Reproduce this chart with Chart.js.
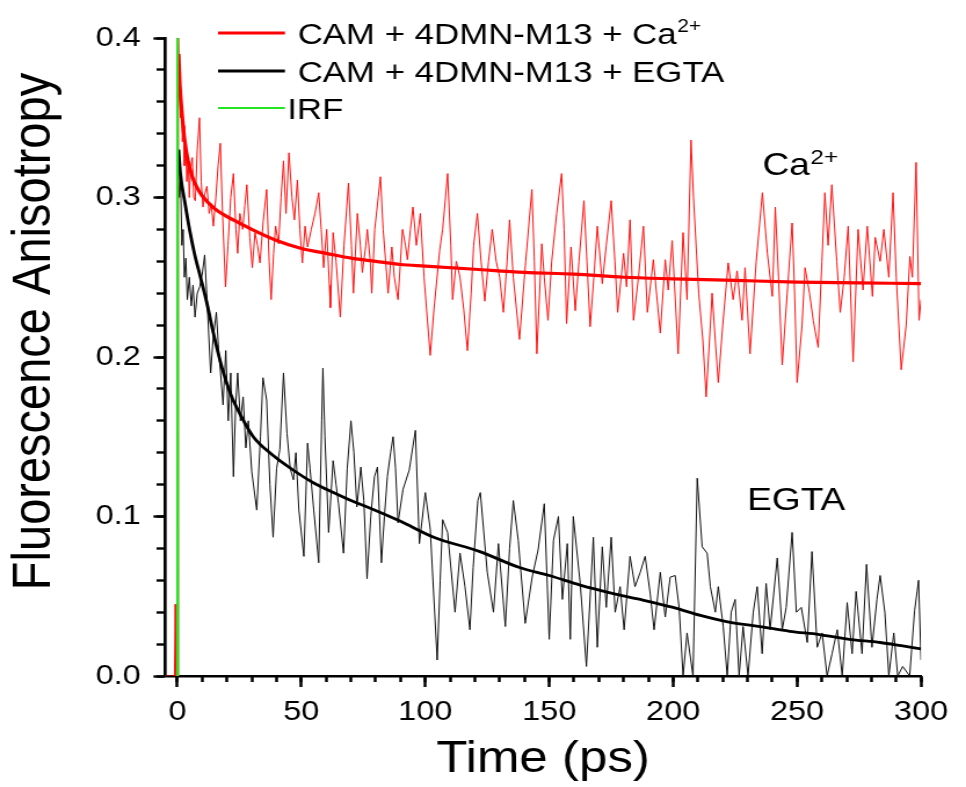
<!DOCTYPE html>
<html><head><meta charset="utf-8">
<script src="https://cdn.jsdelivr.net/npm/chart.js@4.4.0/dist/chart.umd.min.js"></script>
<style>
html,body{margin:0;padding:0;background:#fff;overflow:hidden;width:966px;height:787px;}
#wrap{position:absolute;left:0;top:0;width:833px;height:787px;transform:scaleX(1.1597);transform-origin:0 0;}
canvas{display:block;}
</style></head><body>
<div id="wrap"><canvas id="c" width="833" height="787"></canvas></div>
<script>
// ---------- data (time in ps, anisotropy) ----------
const seriesLabels = ['CAM + 4DMN-M13 + Ca2+', 'CAM + 4DMN-M13 + EGTA', 'IRF'];
const xTitle = 'Time (ps)';
const yTitle = 'Fluorescence Anisotropy';
const annotationTexts = ['Ca2+', 'EGTA'];

const caData = [[-5.3,0.035],[-5.1,0.0],[-1.2,0.0],[-0.9,0.045],[-0.6,0.0],[0.1,0.0],[0.4,0.40],
[0.8,0.37],[1.2,0.35],[1.6,0.36],[2.0,0.335],[2.4,0.345],[2.8,0.32],[3.3,0.333],[3.8,0.31],[4.3,0.325],[4.8,0.30],[5.3,0.318],[6.0,0.325],[6.6,0.30],[7.2,0.298],[8.0,0.33],[8.9,0.350],[9.6,0.31],[10.3,0.294],[11.0,0.302],[11.9,0.307],[12.8,0.29],[13.6,0.296],[14.5,0.282],[15.5,0.30],[16.4,0.32],[17.3,0.334],[18.2,0.29],[19.4,0.244],[20.4,0.27],[21.5,0.30],[22.6,0.315],[23.6,0.28],[24.3,0.265],[25.2,0.290],[26.3,0.280],[27.2,0.295],[28.0,0.308],[29.2,0.275],[30.2,0.256],[31.3,0.278],[32.3,0.27],[33.3,0.259],[34.6,0.285],[36.0,0.305],[37.0,0.26],[37.8,0.236],[38.8,0.265],[39.6,0.282],[40.8,0.271],[41.8,0.30],[42.8,0.323],[43.8,0.290],[45.0,0.328],[46.2,0.30],[47.2,0.286],[48.4,0.311],[49.4,0.28],[50.4,0.259],[51.5,0.282],[52.5,0.269],[54.0,0.28],[55.5,0.29],[57.0,0.303],[58.0,0.28],[59.0,0.256],[60.2,0.280],[61.3,0.245],[61.7,0.231],[62.8,0.278],[64.0,0.26],[65.7,0.225],[67.2,0.27],[69.0,0.309],[70.2,0.27],[71.0,0.240],[72.6,0.290],[73.8,0.27],[74.6,0.253],[76.0,0.27],[76.6,0.280],[77.8,0.26],[78.4,0.240],[79.6,0.28],[81.0,0.30],[81.9,0.313],[83.0,0.28],[85.0,0.240],[86.5,0.269],[87.5,0.25],[89.0,0.236],[90.8,0.280],[92.0,0.27],[92.8,0.261],[94.0,0.28],[95.0,0.294],[96.4,0.27],[98.0,0.290],[99.5,0.25],[100.5,0.23],[102.0,0.201],[103.5,0.23],[105.8,0.267],[107.0,0.28],[109.0,0.315],[110.3,0.27],[111.0,0.236],[112.5,0.26],[114.0,0.25],[115.5,0.23],[117.0,0.204],[118.5,0.24],[119.5,0.27],[121.0,0.290],[122.5,0.26],[124.0,0.235],[125.5,0.26],[127.0,0.280],[128.6,0.26],[130.0,0.25],[131.5,0.228],[133.0,0.26],[134.0,0.286],[135.5,0.25],[138.0,0.211],[140.5,0.26],[143.0,0.305],[144.0,0.26],[145.0,0.202],[147.0,0.271],[148.0,0.25],[149.5,0.223],[151.0,0.26],[153.0,0.29],[155.0,0.315],[156.0,0.28],[157.0,0.221],[158.8,0.269],[160.5,0.229],[162.0,0.26],[164.0,0.298],[165.2,0.26],[166.5,0.219],[168.0,0.25],[169.4,0.282],[171.4,0.246],[173.0,0.27],[175.0,0.298],[176.5,0.26],[177.6,0.228],[180.0,0.265],[181.2,0.244],[182.6,0.286],[184.0,0.223],[186.0,0.25],[188.0,0.282],[189.6,0.228],[192.0,0.261],[194.8,0.215],[196.8,0.261],[198.0,0.242],[199.6,0.273],[202.0,0.202],[204.0,0.278],[205.6,0.236],[207.2,0.336],[208.2,0.30],[210.3,0.240],[212.0,0.21],[213.3,0.175],[215.0,0.22],[215.7,0.240],[217.0,0.21],[218.2,0.184],[220.0,0.22],[222.2,0.259],[224.2,0.236],[225.8,0.254],[227.8,0.223],[229.0,0.256],[231.0,0.202],[233.5,0.26],[236.0,0.303],[238.0,0.265],[240.0,0.238],[241.2,0.294],[242.5,0.25],[244.0,0.195],[246.0,0.24],[248.0,0.284],[249.0,0.24],[250.0,0.184],[252.0,0.22],[253.2,0.256],[255.0,0.24],[256.5,0.223],[258.5,0.206],[260.0,0.26],[261.2,0.303],[262.5,0.27],[264.0,0.308],[266.0,0.26],[267.4,0.228],[269.0,0.25],[270.6,0.282],[272.6,0.197],[274.6,0.280],[276.6,0.242],[278.3,0.282],[280.4,0.238],[281.5,0.275],[283.5,0.26],[285.0,0.28],[287.0,0.25],[288.7,0.303],[290.0,0.25],[292.0,0.192],[294.0,0.22],[295.5,0.263],[296.5,0.25],[298.0,0.322],[299.2,0.223],[300,0.236]];

const egtaData = [[0.3,0.322],[0.8,0.30],[1.3,0.31],[1.8,0.27],[2.3,0.28],[2.8,0.25],[3.4,0.262],[4.0,0.236],[4.8,0.25],[5.6,0.232],[6.3,0.245],[7.1,0.225],[8.0,0.24],[9.0,0.244],[10.0,0.252],[11.0,0.264],[11.8,0.24],[12.6,0.215],[13.4,0.19],[14.3,0.21],[15.7,0.228],[16.6,0.205],[17.4,0.19],[18.4,0.17],[19.5,0.204],[20.5,0.16],[21.5,0.19],[22.6,0.125],[23.5,0.17],[24.3,0.19],[25.4,0.16],[26.5,0.175],[27.6,0.143],[28.6,0.16],[30.0,0.128],[32.0,0.104],[33.5,0.15],[34.5,0.187],[36.0,0.173],[37.3,0.12],[38.6,0.087],[40.0,0.13],[41.3,0.142],[42.8,0.19],[44.2,0.152],[45.5,0.13],[46.8,0.123],[47.8,0.14],[49.0,0.104],[51.0,0.075],[52.5,0.146],[53.5,0.13],[55.0,0.104],[57.0,0.071],[58.2,0.16],[58.7,0.193],[59.5,0.15],[61.0,0.09],[62.8,0.135],[64.0,0.12],[65.0,0.108],[67.0,0.077],[68.5,0.13],[70.0,0.160],[71.2,0.14],[72.4,0.106],[74.0,0.131],[75.2,0.11],[76.5,0.061],[78.0,0.1],[79.5,0.125],[80.7,0.131],[82.3,0.071],[83.5,0.1],[84.7,0.125],[86.0,0.14],[87.0,0.150],[88.0,0.13],[89.0,0.096],[91.0,0.117],[93.5,0.129],[96.0,0.154],[97.6,0.083],[100.0,0.115],[102.0,0.092],[104.8,0.010],[106.0,0.06],[107.0,0.098],[109.0,0.09],[112.0,0.040],[114.0,0.077],[116.0,0.056],[118.0,0.029],[119.3,0.068],[121.2,0.110],[122.2,0.115],[125.0,0.065],[127.5,0.04],[129.5,0.083],[132.3,0.031],[134.0,0.08],[135.5,0.110],[137.5,0.085],[140.3,0.033],[143.1,0.062],[145.5,0.079],[148.0,0.108],[150.0,0.023],[151.7,0.085],[153.7,0.100],[155.3,0.048],[157.3,0.083],[158.5,0.023],[159.7,0.100],[162.5,0.058],[165.0,0.006],[167.8,0.087],[169.4,0.018],[171.4,0.081],[173.0,0.043],[175.0,0.087],[176.6,0.040],[178.6,0.056],[180.2,0.029],[182.6,0.075],[184.6,0.056],[186.7,0.065],[188.7,0.075],[190.7,0.052],[192.3,0.029],[194.8,0.065],[196.8,0.037],[198.8,0.062],[200.8,0.063],[202.4,0.043],[204.0,0.0],[205.6,0.027],[208.0,0.0],[209.7,0.124],[211.7,0.081],[213.7,0.077],[215.0,0.056],[217.0,0.040],[218.2,0.056],[220.2,0.031],[221.8,0.0],[223.4,0.040],[225.0,0.048],[226.6,0.0],[228.2,0.031],[230.2,0.0],[232.3,0.040],[233.9,0.056],[235.9,0.014],[237.5,0.058],[239.1,0.029],[242.0,0.074],[244.0,0.029],[245.6,0.043],[248.0,0.090],[249.7,0.040],[251.7,0.043],[254.1,0.021],[256.0,0.078],[258.1,0.018],[260.1,0.027],[262.1,0.0],[264.1,0.014],[266.2,0.029],[268.2,0.0],[270.2,0.046],[272.2,0.014],[273.8,0.053],[276.2,0.014],[278.0,0.070],[280.2,0.018],[282.2,0.048],[283.5,0.063],[285.4,0.040],[287.0,0.0],[289.0,0.027],[290.6,0.0],[292.6,0.006],[295.4,0.0],[297.4,0.041],[299.0,0.060],[300.0,0.01]];

const caFit = [[0.5,0.39],[1,0.37],[2,0.35],[3,0.335],[4,0.325],[6,0.313],[8,0.306],[10,0.301],[15,0.293],[20,0.288],[25,0.284],[30,0.280],[40,0.273],[50,0.268],[60,0.265],[70,0.262],[80,0.260],[90,0.258],[100,0.257],[120,0.255],[140,0.253],[160,0.252],[180,0.250],[200,0.249],[225,0.248],[250,0.247],[275,0.2465],[300,0.246]];

const egtaFit = [[0.5,0.33],[1.2,0.315],[3,0.297],[5,0.279],[7,0.264],[9.3,0.250],[12,0.233],[14.5,0.215],[18,0.193],[21.4,0.177],[25,0.165],[30.6,0.150],[38,0.139],[46.8,0.129],[55,0.121],[62.9,0.115],[70,0.110],[76.6,0.106],[90,0.097],[103.4,0.087],[122,0.078],[138,0.068],[150,0.063],[162.5,0.057],[175,0.052],[186.7,0.048],[200,0.043],[211,0.038],[222,0.034],[235,0.031],[247,0.028],[259,0.026],[271,0.023],[283.5,0.021],[292,0.019],[300,0.017]];

const irfData = [[-0.2,0.0],[0.0,0.4],[0.2,0.0]];

const xTicksMajor = 50, xTicksMinor = 10, yTicksMajor = 0.1, yTicksMinor = 0.02;

// ---------- chart ----------
const FONT = '"Liberation Sans", Arial, Helvetica, sans-serif';
const RED = '#ff0000', BLACK = '#000000', GREEN = '#22e622';
const toXY = a => a.map(p => ({x: p[0], y: p[1]}));

function drawRich(ctx, text, x, y, size, supSize, supRise) {
  let base = text, sup = '';
  const m = text.match(/^(.*?)(2\+)$/);
  if (m) { base = m[1]; sup = m[2]; }
  ctx.font = size + 'px ' + FONT;
  ctx.fillText(base, x, y);
  if (sup) {
    const w = ctx.measureText(base).width;
    ctx.font = supSize + 'px ' + FONT;
    ctx.fillText(sup, x + w + 0.5, y - supRise);
  }
}

const decor = {
  id: 'decor',
  afterDraw(chart) {
    const ctx = chart.ctx;
    const xs = chart.scales.x, ys = chart.scales.y;
    ctx.save();
    ctx.fillStyle = '#000';
    ctx.textAlign = 'left';
    ctx.textBaseline = 'alphabetic';
    // legend
    const rows = [33, 71, 108];
    const legendColors = [RED, BLACK, GREEN];
    const legendWidths = [3, 3, 2];
    const gaps = [11, 11, 2];
    const x0 = 188, x1 = 245.7;
    seriesLabels.forEach((lab, i) => {
      ctx.strokeStyle = legendColors[i];
      ctx.lineWidth = legendWidths[i];
      ctx.beginPath(); ctx.moveTo(x0, rows[i]); ctx.lineTo(x1, rows[i]); ctx.stroke();
      drawRich(ctx, lab, x1 + gaps[i], rows[i] + 10.8, 30, 18, 12);
    });
    // annotations
    drawRich(ctx, annotationTexts[0], xs.getPixelForValue(236), ys.getPixelForValue(0.314), 32, 21, 11.5);
    drawRich(ctx, annotationTexts[1], xs.getPixelForValue(229.8), ys.getPixelForValue(0.104), 32, 21, 11.5);
    // y title
    ctx.translate(43.1, 331.5);
    ctx.rotate(-Math.PI / 2);
    ctx.textAlign = 'center';
    ctx.font = '47px ' + FONT;
    ctx.fillText(yTitle, 0, 0);
    ctx.restore();
  }
};

const tickFont = {family: FONT, size: 28};

new Chart(document.getElementById('c'), {
  type: 'line',
  data: {
    datasets: [
      {label: seriesLabels[2], data: toXY(irfData), borderColor: GREEN, borderWidth: 2, xAxisID: 'x', yAxisID: 'y'},
      {label: 'Ca fit', data: toXY(caFit), borderColor: RED, borderWidth: 3.2, cubicInterpolationMode: 'monotone', xAxisID: 'x', yAxisID: 'y'},
      {label: 'EGTA fit', data: toXY(egtaFit), borderColor: BLACK, borderWidth: 2.8, cubicInterpolationMode: 'monotone', xAxisID: 'x', yAxisID: 'y'},
      {label: seriesLabels[0], data: toXY(caData), borderColor: '#ff1010', borderWidth: 1, xAxisID: 'x', yAxisID: 'y'},
      {label: seriesLabels[1], data: toXY(egtaData), borderColor: '#111', borderWidth: 1, xAxisID: 'x', yAxisID: 'y'}
    ]
  },
  options: {
    responsive: false,
    animation: false,
    events: [],
    layout: {padding: {left: 0, right: 38.8, top: 38, bottom: 0}},
    elements: {point: {radius: 0}, line: {tension: 0, fill: false}},
    plugins: {legend: {display: false}, tooltip: {enabled: false}},
    scales: {
      x: {
        type: 'linear', axis: 'x', position: 'bottom', min: -5, max: 300,
        afterFit(s) { s.height = 111; },
        ticks: {stepSize: xTicksMajor, includeBounds: false, font: tickFont, color: '#000', padding: 8, maxRotation: 0, autoSkip: false},
        grid: {drawOnChartArea: false, drawTicks: true, tickLength: 11, tickWidth: 2.5, tickColor: '#000'},
        border: {display: true, color: '#000', width: 2.5},
        title: {display: true, text: xTitle, color: '#000', font: {family: FONT, size: 44}, padding: {top: 0, bottom: 0.6}}
      },
      xMinor: {
        type: 'linear', axis: 'x', position: {y: 0}, min: -5, max: 300,
        ticks: {display: false, stepSize: xTicksMinor, includeBounds: false, autoSkip: false},
        grid: {drawOnChartArea: false, drawTicks: true, tickLength: 6, tickWidth: 2.5, tickColor: '#000'},
        border: {display: false}
      },
      y: {
        type: 'linear', axis: 'y', position: 'left', min: 0, max: 0.4,
        afterFit(s) { s.width = 142.3; },
        ticks: {stepSize: yTicksMajor, font: tickFont, color: '#000', padding: 11, callback: v => Number(v).toFixed(1)},
        grid: {drawOnChartArea: false, drawTicks: true, tickLength: 10, tickWidth: 2.4, tickColor: '#000'},
        border: {display: true, color: '#000', width: 2.7},
        title: {display: false}
      },
      yMinor: {
        type: 'linear', axis: 'y', position: {x: -5}, min: 0, max: 0.4,
        ticks: {display: false, stepSize: yTicksMinor, includeBounds: false, autoSkip: false},
        grid: {drawOnChartArea: false, drawTicks: true, tickLength: 7, tickWidth: 2.4, tickColor: '#000'},
        border: {display: false}
      }
    }
  },
  plugins: [decor]
});
</script></body></html>
